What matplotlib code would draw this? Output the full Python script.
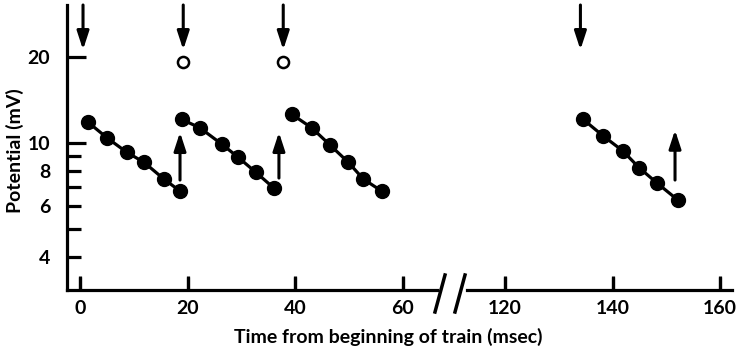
import matplotlib
matplotlib.use("Agg")
import matplotlib.pyplot as plt
from matplotlib.lines import Line2D

plt.rcParams['font.family'] = ['Lato', 'DejaVu Sans']
plt.rcParams['font.weight'] = 'bold'
plt.rcParams['xtick.direction'] = 'in'
plt.rcParams['xtick.major.size'] = 10
plt.rcParams['xtick.major.width'] = 2.3
plt.rcParams['xtick.major.pad'] = 7
plt.rcParams['xtick.labelsize'] = 14

# ---- data (time in ms, potential in mV) ----
t1 = [1.55, 5.1, 8.7, 11.9, 15.6, 18.6]
v1 = [11.8, 10.4, 9.28, 8.56, 7.48, 6.79]
t2 = [18.9, 22.3, 26.4, 29.3, 32.7, 36.0]
v2 = [12.1, 11.3, 9.9, 8.95, 7.9, 6.97]
t3 = [39.4, 43.1, 46.5, 49.9, 52.7, 56.1]
v3 = [12.6, 11.3, 9.84, 8.56, 7.48, 6.79]
t4 = [134.5, 138.2, 141.9, 144.9, 148.3, 152.2]
v4 = [12.1, 10.6, 9.38, 8.2, 7.23, 6.3]

down_arrow_t = [0.56, 19.2, 37.8, 134.0]
open_circle_t = [19.2, 37.8]
open_circle_v = [19.2, 19.2]
up_arrow_t = [18.6, 37.0, 151.6]
up_arrow_tail = [7.42, 7.54, 7.42]
up_arrow_head = [10.9, 10.9, 11.1]

xticks_left = [0, 20, 40, 60]
xticks_right = [120, 140, 160]
yticks_major = [4, 6, 8, 10, 20]
yticks_minor = [5, 7, 9]

W, H = 738, 351
fig = plt.figure(figsize=(W / 100, H / 100), dpi=100)

def px(x0, x1, ytop, ybot):
    return [x0 / W, 1 - ybot / H, (x1 - x0) / W, (ybot - ytop) / H]

axL = fig.add_axes(px(67, 437, 5, 290))
axR = fig.add_axes(px(467, 732, 5, 290))

YLIM = (3.06, 30.4)
mk = dict(color='black', lw=2.3, marker='o', markersize=10, solid_capstyle='round')
axL.plot(t1, v1, **mk)
axL.plot(t2, v2, **mk)
axL.plot(t3, v3, **mk)
axR.plot(t4, v4, **mk)
axL.plot(open_circle_t, open_circle_v, 'o', ls='none', markersize=8,
         markerfacecolor='white', markeredgecolor='black', markeredgewidth=1.8)

for ax in (axL, axR):
    ax.set_yscale('log')
    ax.set_ylim(*YLIM)
    for s in ('top', 'right'):
        ax.spines[s].set_visible(False)
    ax.spines['bottom'].set_linewidth(2.3)
    ax.spines['left'].set_linewidth(2.3)

axL.set_xlim(-2.42, 66.4)
axR.set_xlim(112.9, 162.2)
axL.set_xticks(xticks_left)
axR.set_xticks(xticks_right)
axR.spines['left'].set_visible(False)
axR.tick_params(axis='y', which='both', left=False, labelleft=False)

axL.set_yticks(yticks_major)
axL.set_yticks(yticks_minor, minor=True)
axL.set_yticklabels([str(v) for v in yticks_major])
axL.set_yticklabels([], minor=True)
axL.tick_params(axis='y', which='major', direction='in', length=14, width=2.3,
                pad=12, labelsize=14)
axL.tick_params(axis='y', which='minor', direction='in', length=10, width=2.3)
for tk, v in zip(axL.yaxis.get_major_ticks(), yticks_major):
    if v < 10:
        tk.tick1line.set_markersize(10)

# explicit inward x tick marks (drawn at the tick positions)
axL.vlines(xticks_left, 0, 0.045, transform=axL.get_xaxis_transform(),
           color='black', lw=2.3, clip_on=False)
axR.vlines(xticks_right, 0, 0.045, transform=axR.get_xaxis_transform(),
           color='black', lw=2.3, clip_on=False)

aprops = dict(arrowstyle='-|>,head_length=0.55,head_width=0.18', color='black',
              lw=2.2, shrinkA=0, shrinkB=0, mutation_scale=20)
for t in down_arrow_t:
    ax = axL if t < 100 else axR
    ax.annotate('', xy=(t, 21.2), xytext=(t, YLIM[1]), arrowprops=aprops,
                annotation_clip=False)
for t, a, b in zip(up_arrow_t, up_arrow_tail, up_arrow_head):
    ax = axL if t < 100 else axR
    ax.annotate('', xy=(t, b), xytext=(t, a), arrowprops=aprops)

# break marks
for xb, xt in ((435, 445), (455, 465)):
    fig.add_artist(Line2D([xb / W, xt / W], [1 - 312 / H, 1 - 275 / H],
                          transform=fig.transFigure, color='black', lw=2.5))

fig.text(15 / W, 1 - 151 / H, 'Potential (mV)', rotation=90, ha='center',
         va='center', fontsize=14)
fig.text(388 / W, 1 - 337 / H, 'Time from beginning of train (msec)',
         ha='center', va='center', fontsize=14)

for ax in (axL, axR):
    ax.tick_params(axis='x', which='major', direction='in', length=10,
                   width=2.3, pad=7, labelsize=14, color='black')

fig.savefig('out.png', dpi=100)
